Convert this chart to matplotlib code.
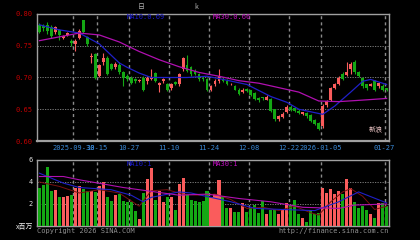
import matplotlib
matplotlib.use('Agg')
import matplotlib.pyplot as plt
import numpy as np

# ---------------- data ----------------
tick_idx = [9, 15, 23, 33, 43, 53, 63, 71, 87]
tick_labels = ['2025-09-30', '10-15', '10-27', '11-10', '11-24',
               '12-08', '12-22', '2026-01-05', '01-27']

opens = [0.783, 0.781, 0.782, 0.779, 0.771, 0.775, 0.762, 0.767, 0.758, 0.752,
         0.762, 0.790, 0.764, 0.732, 0.737, 0.702, 0.724, 0.731, 0.721, 0.716,
         0.719, 0.708, 0.702, 0.700, 0.697, 0.694, 0.700, 0.694, 0.697, 0.707,
         0.688, 0.694, 0.690, 0.683, 0.693, 0.689, 0.713, 0.720, 0.716, 0.711,
         0.705, 0.700, 0.697, 0.680, 0.690, 0.694, 0.698, 0.695, 0.689, 0.686,
         0.681, 0.677, 0.682, 0.680, 0.676, 0.668, 0.669, 0.665, 0.666, 0.650,
         0.634, 0.638, 0.645, 0.654, 0.652, 0.648, 0.643, 0.644, 0.641, 0.633,
         0.629, 0.623, 0.656, 0.665, 0.684, 0.689, 0.706, 0.704, 0.714, 0.725,
         0.708, 0.699, 0.689, 0.687, 0.694, 0.686, 0.687, 0.683]
closes = [0.772, 0.778, 0.773, 0.765, 0.779, 0.767, 0.765, 0.770, 0.754, 0.758,
          0.773, 0.772, 0.752, 0.733, 0.700, 0.720, 0.730, 0.706, 0.714, 0.722,
          0.708, 0.699, 0.697, 0.692, 0.694, 0.696, 0.680, 0.700, 0.701, 0.695,
          0.692, 0.697, 0.680, 0.689, 0.690, 0.705, 0.731, 0.711, 0.705, 0.706,
          0.697, 0.697, 0.681, 0.686, 0.694, 0.702, 0.695, 0.690, 0.690, 0.681,
          0.674, 0.681, 0.679, 0.673, 0.666, 0.664, 0.668, 0.669, 0.648, 0.634,
          0.640, 0.643, 0.653, 0.649, 0.647, 0.644, 0.645, 0.639, 0.632, 0.627,
          0.619, 0.655, 0.663, 0.683, 0.690, 0.700, 0.698, 0.709, 0.722, 0.708,
          0.703, 0.686, 0.683, 0.689, 0.681, 0.691, 0.680, 0.680]
highs = [0.786, 0.785, 0.787, 0.782, 0.781, 0.777, 0.767, 0.772, 0.760, 0.760,
         0.776, 0.791, 0.766, 0.739, 0.739, 0.722, 0.739, 0.734, 0.723, 0.724,
         0.724, 0.710, 0.705, 0.702, 0.699, 0.698, 0.702, 0.702, 0.714, 0.709,
         0.693, 0.699, 0.692, 0.691, 0.695, 0.707, 0.733, 0.736, 0.718, 0.713,
         0.707, 0.702, 0.699, 0.688, 0.698, 0.713, 0.700, 0.697, 0.691, 0.688,
         0.683, 0.683, 0.684, 0.681, 0.677, 0.669, 0.670, 0.672, 0.668, 0.651,
         0.641, 0.645, 0.656, 0.656, 0.653, 0.650, 0.646, 0.645, 0.642, 0.634,
         0.630, 0.658, 0.665, 0.685, 0.692, 0.702, 0.708, 0.725, 0.725, 0.727,
         0.710, 0.700, 0.690, 0.691, 0.696, 0.693, 0.689, 0.684]
lows = [0.770, 0.774, 0.768, 0.762, 0.769, 0.759, 0.760, 0.765, 0.750, 0.742,
        0.760, 0.770, 0.750, 0.723, 0.698, 0.700, 0.720, 0.704, 0.712, 0.714,
        0.706, 0.686, 0.694, 0.690, 0.692, 0.693, 0.679, 0.690, 0.696, 0.693,
        0.677, 0.692, 0.678, 0.681, 0.688, 0.687, 0.711, 0.709, 0.703, 0.704,
        0.695, 0.694, 0.678, 0.678, 0.686, 0.692, 0.693, 0.688, 0.688, 0.680,
        0.672, 0.675, 0.677, 0.671, 0.664, 0.662, 0.665, 0.664, 0.646, 0.631,
        0.632, 0.636, 0.644, 0.647, 0.645, 0.642, 0.641, 0.637, 0.630, 0.625,
        0.617, 0.620, 0.654, 0.663, 0.682, 0.688, 0.696, 0.703, 0.705, 0.706,
        0.701, 0.684, 0.681, 0.686, 0.679, 0.684, 0.678, 0.678]
volumes = [3.45, 3.7, 5.4, 3.2, 3.3, 2.6, 2.6, 2.7, 2.8, 3.5,
           3.6, 3.4, 3.2, 3.2, 3.1, 3.6, 4.0, 2.6, 2.3, 2.8,
           2.9, 2.3, 2.2, 2.2, 1.4, 0.6, 3.0, 4.3, 5.3, 2.4,
           3.2, 2.2, 2.6, 2.6, 1.5, 3.8, 4.4, 2.8, 2.4, 2.3,
           2.2, 2.3, 3.2, 2.6, 2.9, 4.2, 2.6, 1.6, 1.6, 1.3,
           1.3, 2.1, 1.3, 1.6, 1.9, 1.2, 2.3, 1.1, 1.5, 1.5,
           1.1, 1.5, 2.1, 1.9, 2.4, 1.1, 0.7, 0.4, 1.5, 1.1,
           1.2, 3.5, 3.0, 3.4, 2.9, 3.2, 2.9, 4.3, 3.5, 2.2,
           1.6, 1.8, 1.5, 1.1, 0.7, 2.1, 2.1, 1.8]

# moving-average lines
ma10_x = [0, 5, 10, 15, 20, 22, 25, 28, 37, 42, 46, 52, 58, 62, 65, 71, 74, 78, 81, 83, 87]
ma10_y = [0.783, 0.775, 0.770, 0.753, 0.723, 0.716, 0.707, 0.700, 0.700, 0.702, 0.697,
          0.689, 0.670, 0.661, 0.650, 0.642, 0.655, 0.677, 0.694, 0.697, 0.689]
ma30_x = [0, 5, 10, 15, 20, 25, 30, 35, 40, 45, 50, 55, 60, 65, 70, 75, 80, 87]
ma30_y = [0.758, 0.764, 0.770, 0.767, 0.756, 0.741, 0.728, 0.717, 0.708, 0.702, 0.695,
          0.691, 0.684, 0.677, 0.663, 0.662, 0.664, 0.667]

vma5_x = [0, 5, 10, 15, 20, 25, 28, 32, 36, 40, 44, 48, 52, 56, 60, 64, 68, 70, 73, 76, 78, 81, 84, 87]
vma5_y = [4.0, 3.6, 3.0, 3.3, 3.0, 1.8, 3.2, 3.3, 2.9, 2.8, 2.9, 2.4, 1.6, 1.7, 1.4, 1.8,
          1.2, 1.0, 2.2, 3.1, 3.4, 2.7, 1.5, 1.8]
vma10_x = [0, 6, 10, 18, 23, 26, 28, 35, 38, 43, 48, 54, 61, 69, 75, 80, 87]
vma10_y = [4.8, 3.9, 3.5, 3.3, 2.8, 2.2, 2.6, 3.1, 3.0, 2.6, 2.2, 1.6, 1.5, 1.4, 2.2, 3.1, 2.1]
vma30_x = [0, 6, 10, 21, 25, 35, 42, 50, 58, 66, 75, 79, 87]
vma30_y = [4.5, 4.5, 4.2, 3.5, 3.3, 2.8, 2.9, 2.5, 2.2, 1.7, 1.6, 1.9, 2.0]

# ---------------- styling ----------------
RED = '#fa5c5c'
GREEN = '#14a814'
GRID = '#8a8a8a'
MONO = 'DejaVu Sans Mono'
CJK = ['Noto Sans CJK SC', 'DejaVu Sans']
FS = 5

fig = plt.figure(figsize=(4.2, 2.4), dpi=100, facecolor='black')
W, H = 420.0, 240.0
ax = fig.add_axes([37 / W, 1 - 141 / H, 352 / W, 127 / H], facecolor='black')
axv = fig.add_axes([37 / W, 1 - 226 / H, 352 / W, 66 / H], facecolor='black')

n = len(closes)
xs = np.arange(n)
cols = [RED if c >= o else GREEN for o, c in zip(opens, closes)]

# candles
for i in range(n):
    ax.vlines(xs[i], lows[i], highs[i], color=cols[i], lw=0.8, zorder=3)
    lo = min(opens[i], closes[i])
    h = max(abs(closes[i] - opens[i]), 0.0012)
    ax.bar(xs[i], h, bottom=lo, width=0.72, color=cols[i], lw=0, zorder=4)

ax.plot(ma10_x, ma10_y, color='#2020c8', lw=0.9, zorder=5)
ax.plot(ma30_x, ma30_y, color='#b010b0', lw=0.9, zorder=5)

# volume
axv.bar(xs, volumes, width=0.76, color=cols, lw=0, zorder=3)
axv.plot(vma5_x, vma5_y, color='#7a1010', lw=0.7, zorder=5)
axv.plot(vma10_x, vma10_y, color='#2020c8', lw=0.8, zorder=5)
axv.plot(vma30_x, vma30_y, color='#b010b0', lw=0.8, zorder=5)

for a in (ax, axv):
    a.set_xlim(-0.6, n - 0.4)
    for t in tick_idx:
        a.axvline(t - 0.5, color=GRID, lw=1.0, ls=(0, (2.2, 2.2)), zorder=1)
    for s in a.spines.values():
        s.set_color('#a0a0a0')
        s.set_linewidth(1.0)

ax.set_ylim(0.60, 0.80)
for yv in (0.65, 0.70, 0.75):
    ax.axhline(yv, color=GRID, lw=0.6, ls=(0, (1.5, 1.5)), zorder=1)
ax.set_yticks([0.60, 0.65, 0.70, 0.75, 0.80])
ax.set_yticklabels(['0.60', '0.65', '0.70', '0.75', '0.80'],
                   color='#c00000', fontsize=FS, family=MONO)
ax.set_xticks([t - 0.5 for t in tick_idx])
ax.set_xticklabels(tick_labels, color='#3a8ad8', fontsize=FS, family=MONO)
ax.tick_params(length=0, pad=3)
ax.spines['bottom'].set_linewidth(1.6)

axv.set_ylim(0, 6)
for yv in (2, 4):
    axv.axhline(yv, color=GRID, lw=0.6, ls=(0, (1.5, 1.5)), zorder=1)
axv.set_yticks([2, 4, 6])
axv.set_yticklabels(['2', '4', '6'], color='#e0e0e0', fontsize=FS, family=MONO)
axv.set_xticks([])
axv.tick_params(length=0, pad=3)

def ftext(x, y, s, color, fs=FS, family=MONO, ha='left'):
    fig.text(x / W, 1 - y / H, s, color=color, fontsize=fs, family=family,
             ha=ha, va='center')

ftext(127, 17, 'MA10:0.69', '#1a1ad0')
ftext(213, 17, 'MA30:0.66', '#c010c0')
ftext(127, 164, 'MA10:1', '#1a1ad0')
ftext(213, 164, 'MA30:1', '#c010c0')
ftext(141, 7, '日', '#b0b0b0', fs=5, family=CJK, ha='center')
ftext(196, 7, 'k', '#b0b0b0', fs=5, family=CJK, ha='center')
ftext(37, 231, 'Copyright 2026 SINA.COM', '#909090')
ftext(389, 231, 'http://finance.sina.com.cn', '#909090', ha='right')
ftext(16, 227, 'x百万', '#f0f0f0', fs=5, family=CJK)
ftext(376, 130, '新浪', '#f0c8c8', fs=5, family=CJK, ha='center')

fig.savefig('out.png', dpi=100, facecolor='black')
